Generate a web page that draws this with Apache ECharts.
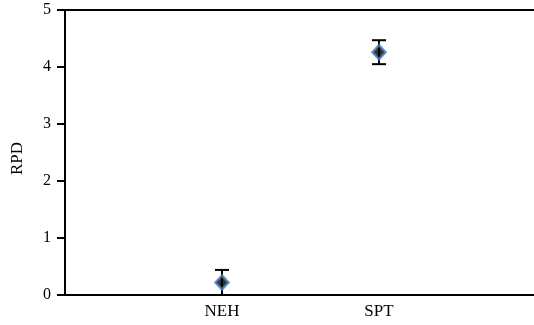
<!DOCTYPE html>
<html>
<head>
<meta charset="utf-8">
<style>
  html, body { margin: 0; padding: 0; background: #fff; }
  #chart { width: 534px; height: 325px; }
</style>
<script src="https://cdn.jsdelivr.net/npm/echarts@6/dist/echarts.min.js"></script>
</head>
<body>
<div id="chart"></div>
<script>
// RPD per method, with error half-widths
var categories = ['NEH', 'SPT'];
var rpdValues = [0.22, 4.26];
var rpdErrors = [0.22, 0.21];
var yTicks = [0, 1, 2, 3, 4, 5];

var FONT = '"Liberation Serif", "Times New Roman", serif';

// Pad the category axis so the two methods sit at one third and two thirds
var axisCats = [''].concat(categories, ['']);

var markerData = categories.map(function (c, i) { return [c, rpdValues[i]]; });
var errorData = categories.map(function (c, i) {
  return [c, Math.max(0, rpdValues[i] - rpdErrors[i]), rpdValues[i] + rpdErrors[i]];
});

var chart = echarts.init(document.getElementById('chart'), null, { renderer: 'canvas' });
chart.setOption({
  animation: false,
  backgroundColor: '#fff',
  grid: { left: 65, width: 471, top: 10, bottom: 30, containLabel: false, outerBoundsMode: 'none' },
  xAxis: [{
    type: 'category',
    data: axisCats,
    boundaryGap: false,
    axisLine: { lineStyle: { color: '#000', width: 2 } },
    axisTick: { show: false },
    axisLabel: { color: '#000', fontFamily: FONT, fontSize: 17, margin: 8, interval: 0 },
    splitLine: { show: false }
  }, {
    type: 'category',
    data: axisCats,
    boundaryGap: false,
    position: 'top',
    axisLine: { lineStyle: { color: '#000', width: 2 } },
    axisTick: { show: false },
    axisLabel: { show: false },
    splitLine: { show: false }
  }],
  yAxis: {
    type: 'value',
    min: yTicks[0],
    max: yTicks[yTicks.length - 1],
    interval: 1,
    name: 'RPD',
    nameLocation: 'middle',
    nameGap: 39,
    nameRotate: 90,
    nameTextStyle: { color: '#000', fontFamily: FONT, fontSize: 17, padding: [0, 12, 0, 0] },
    axisLine: { show: true, lineStyle: { color: '#000', width: 2 } },
    axisTick: { show: true, inside: false, length: 8, lineStyle: { color: '#000', width: 2 } },
    axisLabel: { color: '#000', fontFamily: FONT, fontSize: 16, margin: 14 },
    splitLine: { show: false }
  },
  series: [{
    type: 'custom',
    xAxisIndex: 0,
    data: errorData,
    clip: false,
    renderItem: function (params, api) {
      var x = api.value(0);
      var lo = api.coord([x, api.value(1)]);
      var hi = api.coord([x, api.value(2)]);
      var half = 7;
      var style = { stroke: '#000', lineWidth: 2 };
      return {
        type: 'group',
        children: [
          { type: 'line', shape: { x1: hi[0], y1: hi[1], x2: lo[0], y2: lo[1] }, style: style },
          { type: 'line', shape: { x1: hi[0] - half, y1: hi[1], x2: hi[0] + half, y2: hi[1] }, style: style },
          { type: 'line', shape: { x1: lo[0] - half, y1: lo[1], x2: lo[0] + half, y2: lo[1] }, style: style }
        ]
      };
    },
    z: 2
  }, {
    type: 'scatter',
    xAxisIndex: 0,
    data: markerData,
    symbol: 'diamond',
    symbolSize: [13, 14],
    itemStyle: { color: '#000', borderColor: '#4a7ebb', borderWidth: 2.5 },
    z: 3
  }]
});
</script>
</body>
</html>
